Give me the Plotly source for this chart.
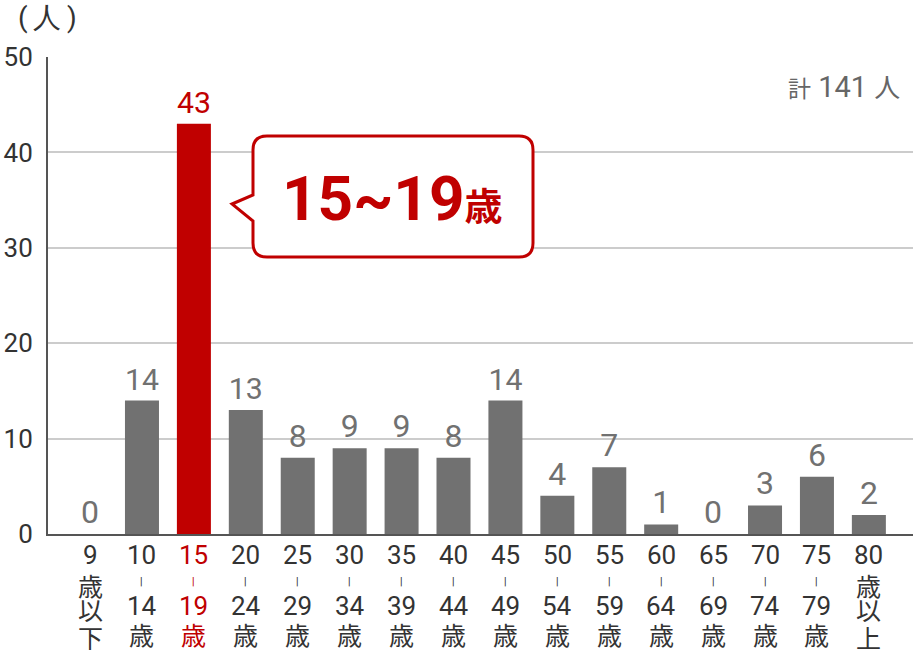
import plotly.graph_objects as go

# data
categories = ["9歳以下", "10-14歳", "15-19歳", "20-24歳", "25-29歳", "30-34歳",
              "35-39歳", "40-44歳", "45-49歳", "50-54歳", "55-59歳", "60-64歳",
              "65-69歳", "70-74歳", "75-79歳", "80歳以上"]
counts = [0, 14, 43, 13, 8, 9, 9, 8, 14, 4, 7, 1, 0, 3, 6, 2]
label_top = ["9", "10", "15", "20", "25", "30", "35", "40", "45", "50",
             "55", "60", "65", "70", "75", "80"]
label_bottom = ["以下", "14", "19", "24", "29", "34", "39", "44", "49", "54",
                "59", "64", "69", "74", "79", "以上"]
highlight = "15-19歳"
y_ticks = [0, 10, 20, 30, 40, 50]

GRAY = "#717171"
RED = "#c00000"
TEXT = "#333333"
FONT = "Roboto, 'Noto Sans CJK JP', sans-serif"
JP = "'Noto Sans CJK JP', sans-serif"

W, H = 913, 650
L, R, T, B = 48, 913, 57, 534


def px(x):
    return (x - L) / (R - L)


def py(y):
    return (B - y) / (B - T)


bar_colors = [RED if c == highlight else GRAY for c in categories]

fig = go.Figure()
fig.add_trace(go.Bar(
    x=categories, y=counts,
    marker=dict(color=bar_colors, line_width=0),
    width=0.655,
    text=[str(v) for v in counts],
    textposition="outside",
    textfont=dict(size=32, color=bar_colors, family=FONT),
    cliponaxis=False,
    hoverinfo="skip",
))

annotations = []
for cat, top, bottom in zip(categories, label_top, label_bottom):
    col = RED if cat == highlight else TEXT
    if bottom in ("以下", "以上"):
        rows = [(top, -21, FONT, 26), ("歳", -51, JP, 25),
                (bottom[0], -75, JP, 25), (bottom[1], -103, JP, 25)]
    else:
        rows = [(top, -21, FONT, 26), ("<b>|</b>", -47, FONT, 10),
                (bottom, -72, FONT, 26), ("歳", -100, JP, 25)]
    for txt, shift, fam, size in rows:
        annotations.append(dict(
            x=cat, xref="x", y=0, yref="paper", yshift=shift,
            text=txt, showarrow=False, yanchor="middle", xanchor="center",
            font=dict(size=size, color=col, family=fam),
        ))

# unit label and total
annotations.append(dict(
    x=px(16), xref="paper", y=py(17), yref="paper",
    text="(\u2009<span style='font-size:28px'>人</span>\u2009)",
    showarrow=False, xanchor="left", yanchor="middle",
    font=dict(size=28, color=TEXT, family="Roboto"),
))
annotations.append(dict(
    x=px(902), xref="paper", y=py(87), yref="paper",
    text="<span style='font-size:23px'>計</span> 141 <span style='font-size:26px'>人</span>",
    showarrow=False, xanchor="right", yanchor="middle",
    font=dict(size=29, color="#666666", family=FONT),
))

# callout text
annotations.append(dict(
    x=px(392), xref="paper", y=py(198), yref="paper",
    text="<b>15~19<span style='font-size:38px'>歳</span></b>",
    showarrow=False, xanchor="center", yanchor="middle",
    font=dict(size=62, color=RED, family=FONT),
))

# callout bubble
x0, x1, y0, y1, r = 253, 533, 136, 257, 14
pts = [
    ("M", x0 + r, y0), ("L", x1 - r, y0), ("Q", x1, y0, x1, y0 + r),
    ("L", x1, y1 - r), ("Q", x1, y1, x1 - r, y1), ("L", x0 + r, y1),
    ("Q", x0, y1, x0, y1 - r), ("L", x0, 221), ("L", 232, 204), ("L", x0, 195),
    ("L", x0, y0 + r), ("Q", x0, y0, x0 + r, y0),
]
path = ""
for p in pts:
    cmd, coords = p[0], p[1:]
    vals = []
    for i in range(0, len(coords), 2):
        vals.append(f"{px(coords[i]):.5f},{py(coords[i + 1]):.5f}")
    path += cmd + " ".join(vals) + " "
path += "Z"

fig.add_shape(type="path", path=path, xref="paper", yref="paper",
              line=dict(color=RED, width=3), fillcolor="white", layer="above")

fig.update_layout(
    width=W, height=H, autosize=False,
    margin=dict(l=L, r=W - R, t=T, b=H - B),
    plot_bgcolor="white", paper_bgcolor="white",
    showlegend=False,
    annotations=annotations,
    font=dict(family=FONT, color=TEXT),
)
fig.update_xaxes(
    range=[-0.81, 15.85], showticklabels=False, showgrid=False,
    showline=True, linecolor="#555555", linewidth=2, ticks="",
    fixedrange=True,
)
fig.update_yaxes(
    range=[0, 50], tickvals=y_ticks, ticks="",
    tickfont=dict(size=26, color=TEXT, family=FONT),
    ticklabelstandoff=8,
    showgrid=True, gridcolor="#cccccc", gridwidth=1.5,
    showline=True, linecolor="#555555", linewidth=2,
    zeroline=False, fixedrange=True,
)

fig.write_html("out.html", config={"displayModeBar": False},
               post_script="document.body.style.margin='0';")
